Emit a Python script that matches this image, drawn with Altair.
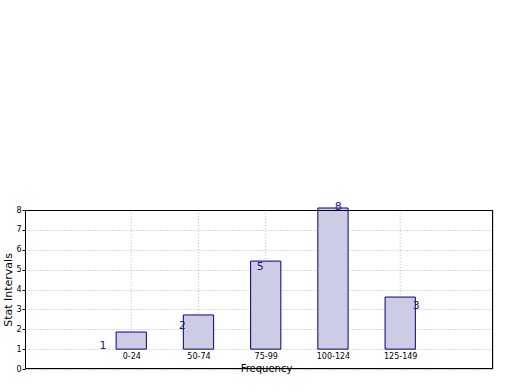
import json
import altair as alt
import pandas as pd

categories = ["0-24", "50-74", "75-99", "100-124", "125-149"]
positions = [1, 2, 3, 4, 5]
values = [1.86, 2.72, 5.43, 8.1, 3.62]
labels = [1, 2, 5, 8, 3]
label_x = [0.58, 1.76, 2.92, 4.08, 5.24]
y_ticks = [0, 1, 2, 3, 4, 5, 6, 7, 8]

df = pd.DataFrame({"cat": categories, "pos": positions, "value": values,
                   "label": labels, "lx": label_x})

FONT = "DejaVu Sans"
xscale = alt.Scale(domain=[-0.58, 6.38], nice=False, zero=False)
yscale = alt.Scale(domain=[0, 8], nice=False)

label_expr = json.dumps(categories) + "[datum.value - 1]"

xaxis = alt.Axis(values=positions, labelExpr=label_expr, offset=-20,
                 domain=False, ticks=False, grid=False, title="Frequency",
                 labelFont=FONT, labelFontSize=8, labelColor="#000",
                 labelPadding=3, labelOverlap=False, titleFont=FONT, titleFontSize=10,
                 titleFontWeight="normal", titleColor="#000",
                 titlePadding=3, titleX=241)
yaxis = alt.Axis(values=y_ticks, grid=True, gridColor="#b8b8b8", tickCount=9,
                 gridDash=[1, 2], domain=False, ticks=True, tickSize=3,
                 tickColor="#000", labelFont=FONT, labelFontSize=8, labelOverlap=False,
                 labelColor="#000", labelPadding=1, title="Stat Intervals",
                 titleFont=FONT, titleFontSize=11, titleFontWeight="normal",
                 titleColor="#000", titlePadding=2)

base = alt.Chart(df)

vgrid = base.mark_rule(color="#b8b8b8", strokeDash=[1, 2], strokeWidth=1).encode(
    x=alt.X("pos:Q", scale=xscale, axis=xaxis),
    y=alt.datum(1, scale=yscale, axis=yaxis),
    y2=alt.datum(8),
)

bars = base.transform_calculate(
    x0="datum.pos - 0.225", x1="datum.pos + 0.225"
).mark_rect(fill="#ccccE4", stroke="#000080", strokeWidth=1, clip=False).encode(
    x=alt.X("x0:Q", scale=xscale, axis=xaxis),
    x2="x1:Q",
    y=alt.Y("value:Q", scale=yscale, axis=yaxis),
    y2=alt.datum(1),
)

text = base.mark_text(color="#1a1a8c", font=FONT, fontSize=11, align="center",
                      baseline="alphabetic").encode(
    x=alt.X("lx:Q", scale=xscale, axis=xaxis),
    y=alt.Y("label:Q", scale=yscale, axis=yaxis),
    text="label:N",
)

frame = base.mark_rect(fill=None, stroke="#000", strokeWidth=1).encode(
    x=alt.value(0.5), x2=alt.value(467.5), y=alt.value(0.5), y2=alt.value(158.5),
)

chart = alt.layer(vgrid, bars, text, frame).properties(
    width=468, height=159,
    autosize=alt.AutoSizeParams(type="none"),
    padding={"left": 25, "top": 210, "right": 27, "bottom": 21},
).configure_view(stroke=None).configure(background="white")

chart.save("out.html", embed_options={"renderer": "svg", "actions": False})
